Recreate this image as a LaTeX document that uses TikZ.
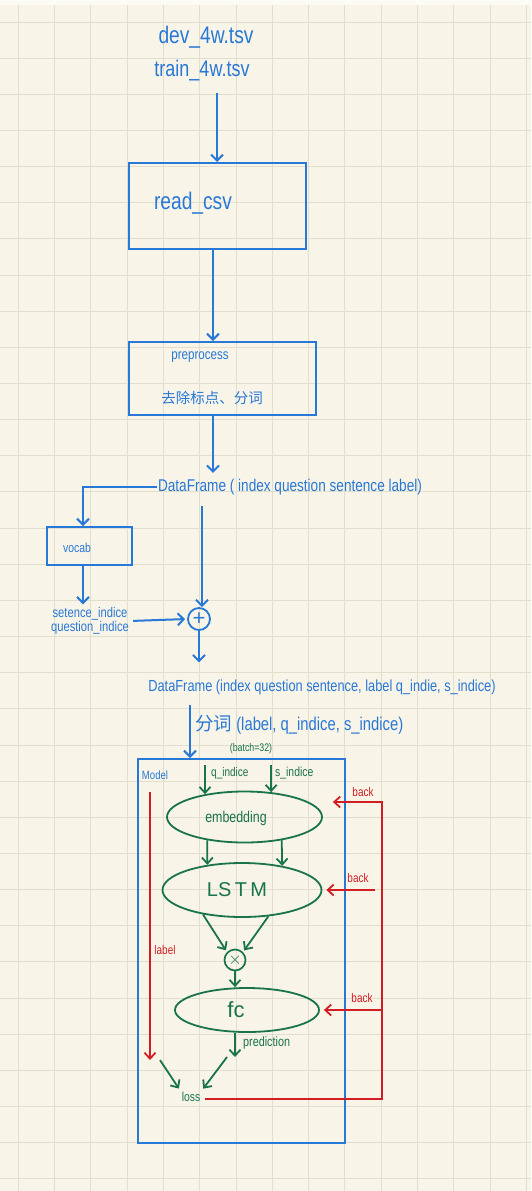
\documentclass[tikz,border=0pt]{standalone}
\usepackage{fontspec}
\setmainfont{Liberation Sans}
\newfontfamily\hand[FakeStretch=0.8]{Liberation Sans}
\newfontfamily\cjk{Noto Sans CJK SC}
\usetikzlibrary{arrows.meta,shapes.geometric,calc}
\definecolor{pen}{RGB}{40,120,215}
\definecolor{gpen}{RGB}{25,115,75}
\definecolor{rpen}{RGB}{210,30,35}
\definecolor{bg}{RGB}{248,244,232}
\definecolor{gridc}{RGB}{226,222,206}
\tikzset{
  ht/.style={font=\hand\fontsize{#1}{#1}\selectfont, inner sep=1pt},
  bluebox/.style={draw=pen, line width=2pt},
  gell/.style={ellipse, draw=gpen, line width=1.8pt, inner sep=0pt},
  barrow/.style={draw=pen, line width=2pt, -{Straight Barb[length=6pt,width=12pt]}},
  garrow/.style={draw=gpen, line width=1.8pt, -{Straight Barb[length=6pt,width=11pt]}},
  rarrow/.style={draw=rpen, line width=1.8pt, -{Straight Barb[length=6pt,width=11pt]}},
  gridline/.style={draw=gridc, line width=1pt}
}
\begin{document}
\begin{tikzpicture}[x=1pt,y=-1pt]
\useasboundingbox (0,0) rectangle (531,1191);
\fill[bg] (0,0) rectangle (531,1191);
\fill[white!60!bg] (0,0) rectangle (531,5);
\foreach \i in {0,...,14} \draw[gridline] ({18.2+36.3*\i},5) -- ({18.2+36.3*\i},1191);
\foreach \j in {0,...,32} \draw[gridline] (0,{22+36.15*\j}) -- (531,{22+36.15*\j});

% top files
\node[ht=24, text=pen] (dev) at (206,37) {dev\_4w.tsv};
\node[ht=22.5, text=pen] (train) at (202,71) {train\_4w.tsv};

% read_csv
\node[bluebox, minimum width=177pt, minimum height=86pt] (read) at (217,206) {};
\node[ht=24, text=pen] (readtxt) at (193,203) {read\_csv};

% preprocess
\node[bluebox, minimum width=187pt, minimum height=73pt] (prep) at (222,378.5) {};
\node[ht=14.5, text=pen] (preptxt) at (200,357) {preprocess};
\node[font=\cjk\fontsize{14.5}{14.5}\selectfont, text=pen, inner sep=1pt] (prepcn) at (212,398) {去除标点、分词};

% dataframe 1
\node[ht=17, text=pen] (df1) at (290,487) {DataFrame ( index question sentence label)};

% vocab
\node[bluebox, minimum width=85pt, minimum height=38pt] (vocab) at (89,546) {};
\node[ht=13, text=pen] (vocabtxt) at (77,548) {vocab};
\node[ht=14, text=pen, align=center] (idx) at (90,621) {setence\_indice\\question\_indice};

% plus
\node[circle, draw=pen, line width=1.8pt, minimum size=22pt, inner sep=0pt, text=pen, font=\fontsize{22}{22}\selectfont] (plus) at (199,619) {+};

% dataframe 2
\node[ht=16, text=pen] (df2) at (322,687) {DataFrame (index question sentence, label q\_indie, s\_indice)};
\node[ht=18.5, text=pen, anchor=west] (fenci) at (194,725) {{\cjk 分词} (label, q\_indice, s\_indice)};
\node[ht=11, text=gpen] (batch) at (251,749) {(batch=32)};

% model box
\node[bluebox, minimum width=207pt, minimum height=384pt] (model) at (241,951) {};
\node[ht=12, text=pen] (modeltxt) at (155,775) {Model};

\node[ht=12.5, text=gpen, anchor=west] (qi) at (210,773) {q\_indice};
\node[ht=13, text=gpen, anchor=west] (si) at (274,773) {s\_indice};

\node[gell, minimum width=155pt, minimum height=51pt] (emb) at (244.5,817) {};
\node[ht=15.5, text=gpen] (embtxt) at (236,818) {embedding};
\node[gell, minimum width=159pt, minimum height=54pt] (lstm) at (242,890) {};
\node[text=gpen, font=\fontsize{20}{20}\selectfont] (lstmtxt) at (237,890) {LS\,T\,M};
\node[circle, draw=gpen, line width=1.7pt, minimum size=21pt, inner sep=0pt, text=gpen, font=\fontsize{19}{19}\selectfont] (xm) at (235,960) {$\times$};
\node[gell, minimum width=144pt, minimum height=44pt] (fc) at (247,1010) {};
\node[text=gpen, font=\fontsize{22}{22}\selectfont] (fctxt) at (236,1010) {fc};

\node[ht=13.5, text=gpen, anchor=west] (predtxt) at (242,1043) {prediction};
\node[ht=13, text=gpen] (loss) at (191,1097) {loss};
\node[ht=12.5, text=rpen] (labeltxt) at (165,950) {label};

\node[ht=12.5, text=rpen] (back1) at (363,792) {back};
\node[ht=12.5, text=rpen] (back2) at (358,878) {back};
\node[ht=12.5, text=rpen] (back3) at (362,998) {back};

% blue connectors
\draw[barrow] ([yshift=-10pt]train.south -| read.north) -- (read.north);
\draw[barrow] ([xshift=-4pt]read.south) -- ([xshift=-4pt]read.south |- prep.north);
\draw[barrow, shorten >=5pt] ([xshift=-9pt]prep.south) -- ([xshift=-9pt]prep.south |- df1.north);
\draw[barrow] (df1.west) -| ([xshift=-6pt]vocab.north);
\draw[barrow, shorten >=2pt] ([xshift=-6pt]vocab.south) -- ([xshift=-6pt]vocab.south |- idx.north);
\draw[barrow, shorten <=10pt] ([xshift=3pt]df1.south -| plus.north) -- ([xshift=3pt]plus.north);
\draw[barrow, shorten <=3pt, shorten >=2pt] (idx.east) -- (plus.west);
\draw[barrow, shorten >=16pt] (plus.south) -- (plus.south |- df2.north);
\draw[barrow, shorten <=9pt] ([xshift=-132pt]df2.south) -- ([xshift=-132pt]df2.south |- model.north);

% green connectors
\draw[garrow] ([yshift=1pt]emb.150 |- qi.north) -- (emb.150);
\draw[garrow] ([yshift=1pt]emb.43 |- si.north) -- (emb.43);
\draw[garrow] (emb.212) -- (lstm.144);
\draw[garrow] (emb.-32) -- (lstm.31);
\draw[garrow, shorten >=2pt] (lstm.212) -- (xm.135);
\draw[garrow, shorten >=2pt] (lstm.-45) -- (xm.45);
\draw[garrow] (xm.south) -- (xm.south |- fc.north);
\coordinate (predend) at (235,1057);
\draw[garrow] (xm.south |- fc.south) -- (predend);
\coordinate (labtop) at (150,792);
\coordinate (labbot) at (150,1060);
\draw[garrow, shorten >=3pt] ([xshift=10pt]labbot) -- (loss.north west);
\draw[garrow, shorten >=3pt] ([xshift=-8pt]predend) -- (loss.north east);

% red connectors
\draw[rarrow] (labtop) -- (labbot);
\coordinate (bk) at (382,802);
\draw[rarrow, shorten <=4pt] ([yshift=-2pt]loss.east) -| (bk) -- ([xshift=10pt]emb.east |- bk);
\draw[rarrow] ([xshift=-7pt]bk |- lstm.east) -- ([xshift=4pt]lstm.east);
\draw[rarrow] (bk |- fc.east) -- ([xshift=4pt]fc.east);
\end{tikzpicture}
\end{document}
